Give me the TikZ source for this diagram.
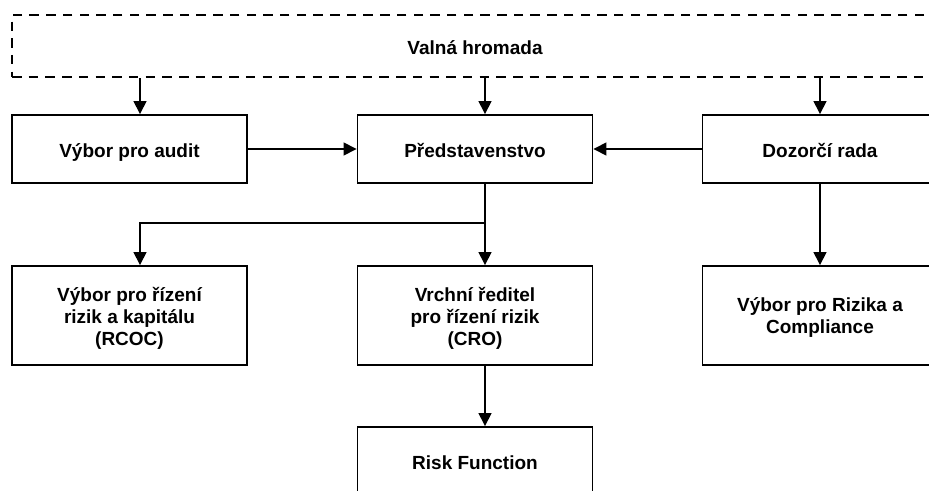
\documentclass[tikz,border=0pt]{standalone}
\usepackage{fontspec}
\setmainfont{Liberation Sans}
\usetikzlibrary{arrows.meta}
\begin{document}
\begin{tikzpicture}[x=1pt,y=-1pt,
  box/.style={draw=black, line width=1.9pt, fill=white, minimum width=235pt, align=center,
    font=\fontsize{19}{22}\selectfont\bfseries, inner sep=0pt},
  rowone/.style={box, minimum height=68pt, text height=16pt, text depth=0pt},
  rowtwo/.style={box, minimum height=99pt, text depth=0pt},
  dashbox/.style={box, line width=2pt, dash pattern=on 9.5pt off 7.2pt, minimum width=926pt,
    minimum height=62pt, text height=16pt, text depth=0pt},
  conn/.style={line width=1.5pt, -{Triangle[width=13pt,length=13pt]}}]
\useasboundingbox (0,0) rectangle (929,490);
\clip (0,0) rectangle (929,490);
\node[dashbox] (gm) at (475,46) {Valná hromada};
\node[rowone] (audit) at (129.5,149) {Výbor pro audit};
\node[rowone] (pred) at (475,149) {Představenstvo};
\node[rowone] (dozor) at (820,149) {Dozorčí rada};
\node[rowtwo, text height=59pt] (rcoc) at (129.5,315.5) {Výbor pro řízení\\ rizik a kapitálu\\(RCOC)};
\node[rowtwo, text height=59pt] (cro) at (475,315.5) {Vrchní ředitel\\ pro řízení rizik\\(CRO)};
\node[rowtwo, text height=35pt] (rc) at (820,315.5) {Výbor pro Rizika a\\Compliance};
\node[rowone] (rf) at (475,461) {Risk Function};
\coordinate (j) at (485,223);
\draw[conn] (gm.south -| 140,0) -- (audit.north -| 140,0);
\draw[conn] (gm.south -| 485,0) -- (pred.north -| 485,0);
\draw[conn] (gm.south -| dozor) -- (dozor.north);
\draw[conn] (audit.east) -- (pred.west);
\draw[conn] (dozor.west) -- (pred.east);
\draw[conn] (pred.south -| j) -- (cro.north -| j);
\draw[conn] (j) -| (rcoc.north -| 140,0);
\draw[conn] (dozor.south) -- (rc.north);
\draw[conn] (cro.south -| j) -- (rf.north -| j);
\end{tikzpicture}
\end{document}
